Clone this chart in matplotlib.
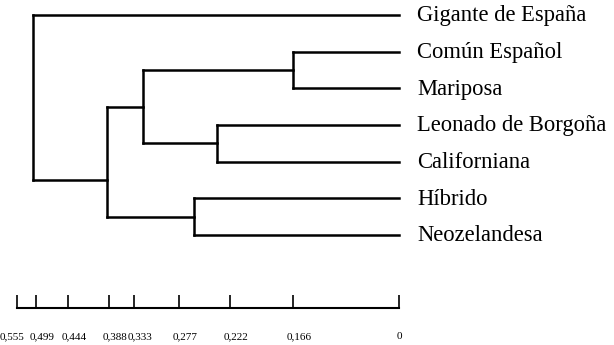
import numpy as np
import matplotlib.pyplot as plt
from matplotlib.transforms import ScaledTranslation

plt.rcParams['font.family'] = ['Liberation Serif', 'DejaVu Serif']

# Leaves, top to bottom
leaves = ['Gigante de España', 'Común Español', 'Mariposa', 'Leonado de Borgoña',
          'Californiana', 'Híbrido', 'Neozelandesa']

# Linkage rows: (child a, child b, distance); new clusters are numbered from len(leaves)
merge_a = [1, 3, 5, 7, 10, 0]
merge_b = [2, 4, 6, 8, 9, 11]
merge_dist = [0.166, 0.236, 0.261, 0.322, 0.390, 0.507]

# Scale bar ticks
tick_values = [0.555, 0.499, 0.444, 0.388, 0.333, 0.277, 0.222, 0.166, 0.0]
tick_labels = ['0,555', '0,499', '0,444', '0,388', '0,333', '0,277', '0,222', '0,166', '0']

# The printed distance axis is not linear: warp it piecewise between the ticks
warp_d = np.array([0.0, 0.166, 0.222, 0.277, 0.333, 0.388, 0.444, 0.499, 0.555])
warp_u = np.array([0.0, 106.6, 169.3, 220.3, 265.0, 290.6, 331.0, 363.6, 382.0])


def fwd(d):
    return np.interp(d, warp_d, warp_u)


def inv(u):
    return np.interp(u, warp_u, warp_d)


W, H = 614, 345
fig = plt.figure(figsize=(W / 100, H / 100), dpi=100)
left = 17.3 / W
width = 382.0 / W

ax = fig.add_axes([left, 0, width, 1])
ax.set_xscale('function', functions=(fwd, inv))
ax.set_xlim(0.555, 0)
ax.set_ylim(9.0, -0.409)
ax.axis('off')

n = len(leaves)
ypos = {i: float(i) for i in range(n)}
xpos = {i: 0.0 for i in range(n)}
size = {i: 1 for i in range(n)}

lw = 1.8
for k, (a, b, d) in enumerate(zip(merge_a, merge_b, merge_dist)):
    node = n + k
    # horizontal arms from each child to the merge distance
    for c in (a, b):
        ax.plot([xpos[c], d], [ypos[c], ypos[c]], color='black', lw=lw,
                solid_capstyle='projecting', clip_on=False)
    ax.plot([d, d], [ypos[a], ypos[b]], color='black', lw=lw,
            solid_capstyle='projecting', clip_on=False)
    # the joint sits nearer to the smaller branch
    wa, wb = 1.0 / size[a], 1.0 / size[b]
    ypos[node] = (ypos[a] * wa + ypos[b] * wb) / (wa + wb)
    xpos[node] = d
    size[node] = size[a] + size[b]

for i, name in enumerate(leaves):
    ax.annotate(name, xy=(0, i), xytext=(18, -1), textcoords='offset pixels',
                ha='left', va='center', fontsize=16.3, annotation_clip=False)

# Distance scale bar
sax = fig.add_axes([left, (H - 307.7) / H, width, 0.02])
sax.set_xscale('function', functions=(fwd, inv))
sax.set_xlim(0.555, 0)
sax.set_yticks([])
sax.patch.set_visible(False)
for side in ('top', 'left', 'right'):
    sax.spines[side].set_visible(False)
sax.spines['bottom'].set_linewidth(1.5)
sax.set_xticks(tick_values, tick_labels)
sax.xaxis.set_minor_locator(plt.NullLocator())
sax.tick_params(axis='x', direction='in', length=9.5, width=1.2, pad=17.5,
                labelsize=8)
for j, lab in enumerate(sax.get_xticklabels()):
    if ',' in lab.get_text():
        # first label is pushed left so it does not run into its neighbour
        shift = -17.3 if j == 0 else -6.5
        lab.set_horizontalalignment('left')
        lab.set_transform(lab.get_transform() +
                          ScaledTranslation(shift / 100, 0, fig.dpi_scale_trans))

fig.savefig('out.png', dpi=100)
